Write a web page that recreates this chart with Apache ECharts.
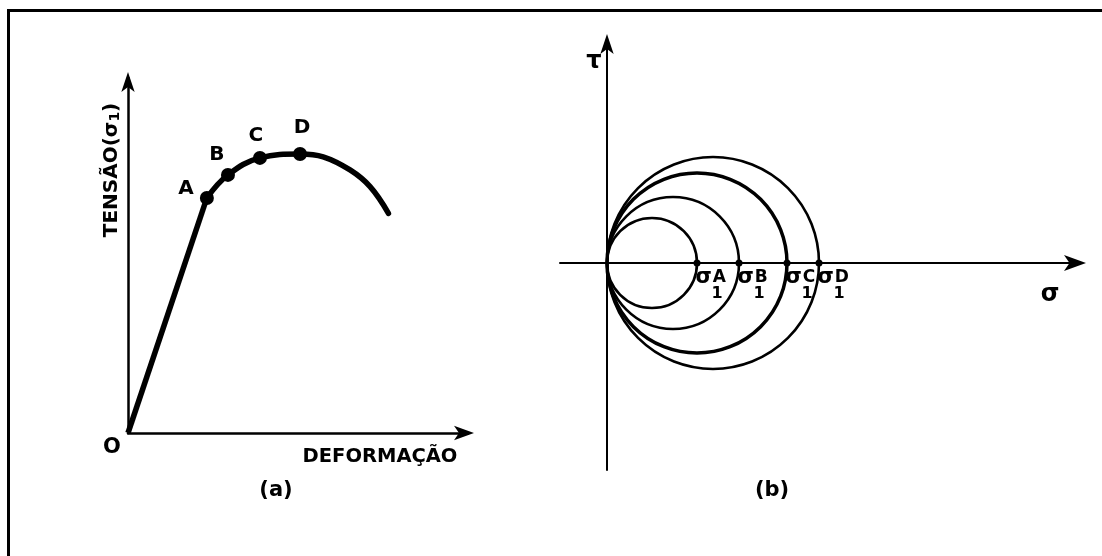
<!DOCTYPE html>
<html>
<head>
<meta charset="utf-8">
<script src="https://cdn.jsdelivr.net/npm/echarts@6/dist/echarts.min.js"></script>
<style>
  html, body { margin: 0; padding: 0; background: #fff; }
  #chart { width: 1102px; height: 556px; }
</style>
</head>
<body>
<div id="chart"></div>
<script>
// (a) stress–strain curve: strain (x) and stress σ1 (y)
const strainValues = [0, 23.2, 29.4, 38.8, 50.6, 57.4, 65.3, 71.2, 76.6];
const stressValues = [0, 66.2, 72.7, 77.5, 78.6, 77.8, 74.1, 69.4, 61.9];

// marked states on the curve
const stateNames = ['A', 'B', 'C', 'D'];
const stateStrain = [23.2, 29.4, 38.8, 50.6];
const stateStress = [66.2, 72.7, 77.5, 78.6];

// (b) Mohr circles: major principal stress σ1 at each state (σ3 = 0)
const sigma1Values = [45, 66, 90, 106];

const FONT = 'DejaVu Sans';
const INK = '#000';

// label nudges for the state letters
const stateLabelOffset = { A: [-21, 13], B: [-11, 2], C: [-4, 0], D: [2, -4] };

const curvePoints = strainValues.map((x, i) => [x, stressValues[i]]);
const linearPart = curvePoints.slice(0, 2);
const plasticPart = curvePoints.slice(1);

const chart = echarts.init(document.getElementById('chart'), null, { renderer: 'canvas' });

const hiddenAxisBits = {
  axisTick: { show: false },
  axisLabel: { show: false },
  splitLine: { show: false }
};

const option = {
  backgroundColor: '#fff',
  animation: false,
  grid: [
    { left: 128, top: 78, width: 340, height: 355 },
    { left: 560, top: 40, width: 520, height: 430 }
  ],
  xAxis: [
    {
      gridIndex: 0, type: 'value', min: 0, max: 100,
      axisLine: { lineStyle: { color: INK, width: 2.5 }, symbol: ['none', 'arrow'], symbolSize: [11, 20], symbolOffset: [0, 6] },
      ...hiddenAxisBits
    },
    {
      gridIndex: 1, type: 'value', min: -23.5, max: 236.5,
      axisLine: { onZero: true, lineStyle: { color: INK, width: 2 }, symbol: ['none', 'arrow'], symbolSize: [12, 22], symbolOffset: [0, 6] },
      ...hiddenAxisBits
    }
  ],
  yAxis: [
    {
      gridIndex: 0, type: 'value', min: 0, max: 100,
      axisLine: { lineStyle: { color: INK, width: 2.5 }, symbol: ['none', 'arrow'], symbolSize: [10, 20], symbolOffset: [0, 6] },
      ...hiddenAxisBits
    },
    {
      gridIndex: 1, type: 'value', min: -103.5, max: 111.5,
      axisLine: { onZero: true, lineStyle: { color: INK, width: 2 }, symbol: ['none', 'arrow'], symbolSize: [10, 20], symbolOffset: [0, 6] },
      ...hiddenAxisBits
    }
  ],
  series: [
    // elastic branch, straight from O to A
    {
      type: 'line', xAxisIndex: 0, yAxisIndex: 0,
      data: linearPart, smooth: false, showSymbol: false,
      lineStyle: { color: INK, width: 5.5 }
    },
    // plastic branch through the peak and down
    {
      type: 'line', xAxisIndex: 0, yAxisIndex: 0,
      data: plasticPart, smooth: 0.4, showSymbol: false,
      lineStyle: { color: INK, width: 5.5, cap: 'round', join: 'round' }
    },
    // state points A–D
    {
      type: 'scatter', xAxisIndex: 0, yAxisIndex: 0,
      symbolSize: 14, itemStyle: { color: INK, opacity: 1 },
      data: stateNames.map((n, i) => ({
        name: n,
        value: [stateStrain[i], stateStress[i]],
        label: { offset: stateLabelOffset[n] }
      })),
      label: {
        show: true, position: 'top', formatter: '{b}',
        color: INK, fontFamily: FONT, fontSize: 20, fontWeight: 'bold'
      }
    },
    // Mohr circles, all passing through the origin (σ3 = 0)
    {
      type: 'custom', xAxisIndex: 1, yAxisIndex: 1,
      data: sigma1Values.map(v => [v]),
      renderItem: function (params, api) {
        const s1 = api.value(0);
        const c = api.coord([s1 / 2, 0]);
        const r = api.size([s1 / 2, 0])[0];
        return {
          type: 'circle',
          shape: { cx: c[0], cy: c[1], r: r },
          style: { fill: 'none', stroke: INK, lineWidth: params.dataIndex === 2 ? 3.5 : 2.6 }
        };
      }
    },
    // σ1 points on the σ axis with their labels
    {
      type: 'scatter', xAxisIndex: 1, yAxisIndex: 1,
      symbolSize: 7, itemStyle: { color: INK, opacity: 1 },
      data: sigma1Values.map((v, i) => ({ name: stateNames[i], value: [v, 0] })),
      label: {
        show: true, position: [2, 9],
        formatter: p => '{s|σ}{u|' + p.name + '}\n{d|1}',
        color: INK, fontFamily: FONT,
        rich: {
          s: { fontSize: 21, fontWeight: 'bold', lineHeight: 18, color: INK, fontFamily: FONT },
          u: { fontSize: 17, fontWeight: 'bold', lineHeight: 18, color: INK, fontFamily: FONT, padding: [0, 0, 0, 1] },
          d: { fontSize: 16, fontWeight: 'bold', lineHeight: 15, padding: [0, 0, 0, 16], color: INK, fontFamily: FONT }
        }
      }
    }
  ],
  graphic: [
    // frame
    {
      type: 'polyline', silent: true,
      shape: { points: [[8.5, 556], [8.5, 10.5], [1102, 10.5]] },
      style: { fill: 'none', stroke: INK, lineWidth: 3 }
    },
    // (a) axis captions
    {
      type: 'text', x: 112, y: 170, rotation: Math.PI / 2,
      style: {
        text: '{t|TENSÃO(σ}{s|1}{t|)}', align: 'center', verticalAlign: 'middle',
        rich: {
          t: { fontSize: 20, fontWeight: 'bold', fontFamily: FONT, fill: INK },
          s: { fontSize: 14, fontWeight: 'bold', fontFamily: FONT, fill: INK, verticalAlign: 'bottom' }
        }
      }
    },
    {
      type: 'text', x: 112, y: 448,
      style: { text: 'O', fontSize: 21, fontWeight: 'bold', fontFamily: FONT, fill: INK, align: 'center', verticalAlign: 'middle' }
    },
    {
      type: 'text', x: 380, y: 457,
      style: { text: 'DEFORMAÇÃO', fontSize: 19.5, fontWeight: 'bold', fontFamily: FONT, fill: INK, align: 'center', verticalAlign: 'middle' }
    },
    {
      type: 'text', x: 276, y: 491,
      style: { text: '(a)', fontSize: 21, fontWeight: 'bold', fontFamily: FONT, fill: INK, align: 'center', verticalAlign: 'middle' }
    },
    // (b) axis captions
    {
      type: 'text', x: 594, y: 62,
      style: { text: 'τ', fontSize: 24, fontWeight: 'bold', fontFamily: FONT, fill: INK, align: 'center', verticalAlign: 'middle' }
    },
    {
      type: 'text', x: 1050, y: 295,
      style: { text: 'σ', fontSize: 24, fontWeight: 'bold', fontFamily: FONT, fill: INK, align: 'center', verticalAlign: 'middle' }
    },
    {
      type: 'text', x: 772, y: 491,
      style: { text: '(b)', fontSize: 21, fontWeight: 'bold', fontFamily: FONT, fill: INK, align: 'center', verticalAlign: 'middle' }
    }
  ]
};

chart.setOption(option);
</script>
</body>
</html>
